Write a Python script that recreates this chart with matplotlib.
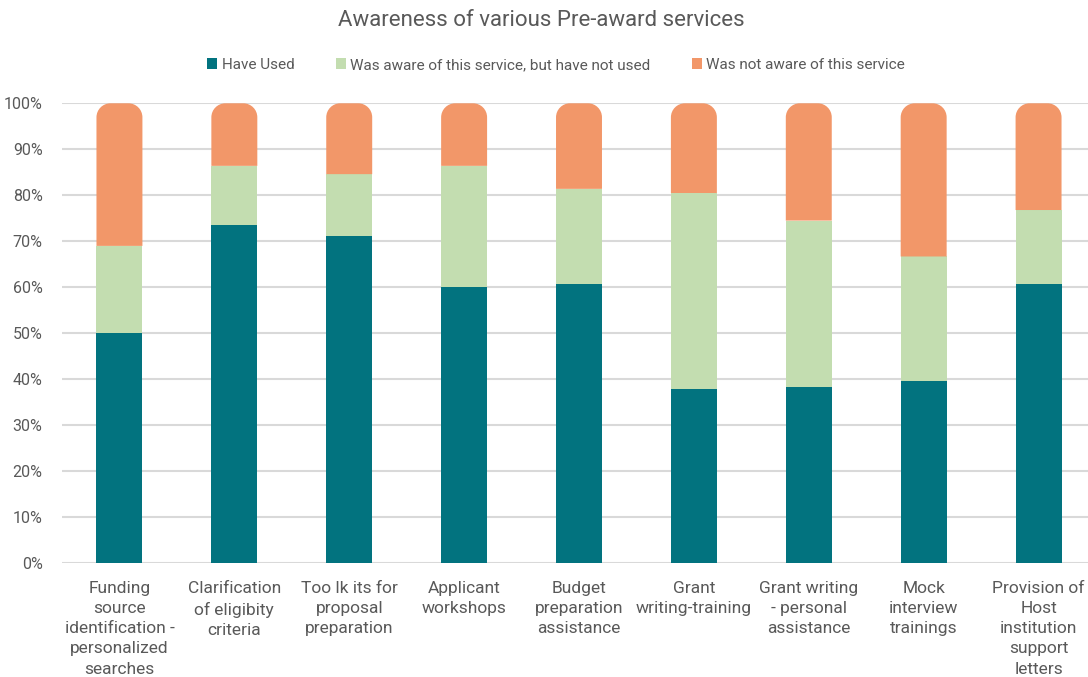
import matplotlib
matplotlib.use("Agg")
import matplotlib.pyplot as plt
from matplotlib.path import Path
from matplotlib.patches import PathPatch, Patch
import numpy as np

plt.rcParams['font.family'] = ['Roboto', 'DejaVu Sans']

categories = [
    "Funding\nsource\nidentification -\npersonalized\nsearches",
    "Clarification\nof eligibity\ncriteria",
    "Too lk its for\nproposal\npreparation",
    "Applicant\nworkshops",
    "Budget\npreparation\nassistance",
    "Grant\nwriting-training",
    "Grant writing\n- personal\nassistance",
    "Mock\ninterview\ntrainings",
    "Provision of\nHost\ninstitution\nsupport\nletters",
]
have_used = [50.0, 73.5, 71.2, 60.1, 60.8, 38.0, 38.3, 39.6, 60.8]
aware_not_used = [19.0, 12.9, 13.4, 26.3, 20.6, 42.5, 36.2, 27.1, 16.0]
not_aware = [31.0, 13.6, 15.4, 13.6, 18.6, 19.5, 25.5, 33.3, 23.2]
series_names = ["Have Used", "Was aware of this service, but have not used",
                "Was not aware of this service"]
colors = ["#02737F", "#C3DDB0", "#F29769"]
yticks = [0, 10, 20, 30, 40, 50, 60, 70, 80, 90, 100]
text_color = "#595959"

W, H = 1088, 677
fig = plt.figure(figsize=(W / 100, H / 100), dpi=100)
left_px, right_px = 62, 1096
bottom_px, top_px = 563.3, 103.3
ax = fig.add_axes([left_px / W, (H - bottom_px) / H,
                   (right_px - left_px) / W, (bottom_px - top_px) / H])
ax.set_xlim(-0.5, len(categories) - 0.5)
ax.set_ylim(0, 100)

x = np.arange(len(categories))
bw = 0.4
b1 = ax.bar(x, have_used, bw, color=colors[0], zorder=3)
b2 = ax.bar(x, aware_not_used, bw, bottom=have_used, color=colors[1], zorder=3)
bottom3 = np.array(have_used) + np.array(aware_not_used)
b3 = ax.bar(x, not_aware, bw, bottom=bottom3, color=colors[2], zorder=3)

# Round the top corners of the uppermost segment
fig.canvas.draw()
px_per_x = ax.transData.transform((1, 0))[0] - ax.transData.transform((0, 0))[0]
px_per_y = ax.transData.transform((0, 1))[1] - ax.transData.transform((0, 0))[1]
r_px = 14
rx, ry = r_px / px_per_x, r_px / px_per_y
k = 0.5523
for p in b3.patches:
    x0, y0 = p.get_x(), p.get_y()
    w, h = p.get_width(), p.get_height()
    x1, y1 = x0 + w, y0 + h
    verts = [
        (x0, y0), (x1, y0), (x1, y1 - ry),
        (x1, y1 - ry + k * ry), (x1 - rx + k * rx, y1), (x1 - rx, y1),
        (x0 + rx, y1),
        (x0 + rx - k * rx, y1), (x0, y1 - ry + k * ry), (x0, y1 - ry),
        (x0, y0),
    ]
    codes = [Path.MOVETO, Path.LINETO, Path.LINETO,
             Path.CURVE4, Path.CURVE4, Path.CURVE4,
             Path.LINETO,
             Path.CURVE4, Path.CURVE4, Path.CURVE4,
             Path.CLOSEPOLY]
    ax.add_patch(PathPatch(Path(verts, codes), facecolor=p.get_facecolor(),
                           edgecolor='none', zorder=3, clip_on=False))
    p.set_visible(False)

ax.set_yticks(yticks)
ax.set_yticklabels([f"{v}%" for v in yticks], fontsize=11.5, color=text_color)
ax.yaxis.grid(True, color="#D9D9D9", linewidth=1.5, zorder=0)
ax.set_xticks(x)
ax.set_xticklabels(categories, fontsize=12.5, color=text_color, linespacing=1.42,
                   va='top')
ax.tick_params(axis='both', length=0)
ax.tick_params(axis='y', pad=14)
ax.tick_params(axis='x', pad=13)
for s in ax.spines.values():
    s.set_visible(False)

fig.text(541 / W, 1 - 20 / H, "Awareness of various Pre-award services",
         ha='center', va='center', fontsize=16, color=text_color)

handles = [Patch(facecolor=c, edgecolor='none') for c in colors]
leg = fig.legend(handles=handles, labels=series_names,
                 loc='center', bbox_to_anchor=(556 / W, 1 - 65 / H), ncol=3,
                 frameon=False, fontsize=11, handlelength=0.65, handleheight=0.75,
                 handletextpad=0.3, columnspacing=2.7, labelcolor=text_color)

fig.savefig("out.png", dpi=100)
